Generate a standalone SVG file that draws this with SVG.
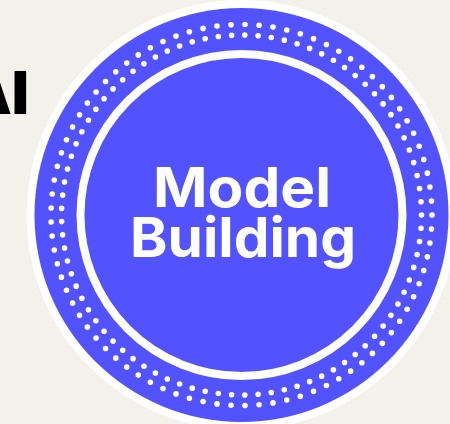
<svg xmlns="http://www.w3.org/2000/svg" width="450" height="424" viewBox="0 0 450 424">
<style>
.dots{fill:none;stroke:#fff;stroke-width:5.6;stroke-linecap:round;stroke-dasharray:0 1}
.label{font-family:Inter,"Liberation Sans",sans-serif;font-weight:700;font-size:55px;fill:#fff;text-anchor:middle}
</style>
<rect width="450" height="424" fill="#f4f1ea"/>
<text id="ai-label" x="29" y="114" font-family="Inter,'Liberation Sans',sans-serif" font-weight="900" font-size="59" fill="#000" text-anchor="end">AI</text>
<g id="model-building">
<circle cx="241.5" cy="215" r="215" fill="#fff"/>
<circle cx="241.5" cy="215" r="207" fill="#5352ff"/>
<circle class="dots" cx="241.5" cy="215" r="190.5" pathLength="85"/>
<circle class="dots" cx="241.5" cy="215" r="180" pathLength="85"/>
<circle cx="241.5" cy="215" r="161" fill="#5352ff" stroke="#fff" stroke-width="8"/>
<text class="label" x="242" y="206.5" textLength="178" lengthAdjust="spacingAndGlyphs">Model</text>
<text class="label" x="243" y="256.5" textLength="226" lengthAdjust="spacingAndGlyphs">Building</text>
</g>
</svg>
